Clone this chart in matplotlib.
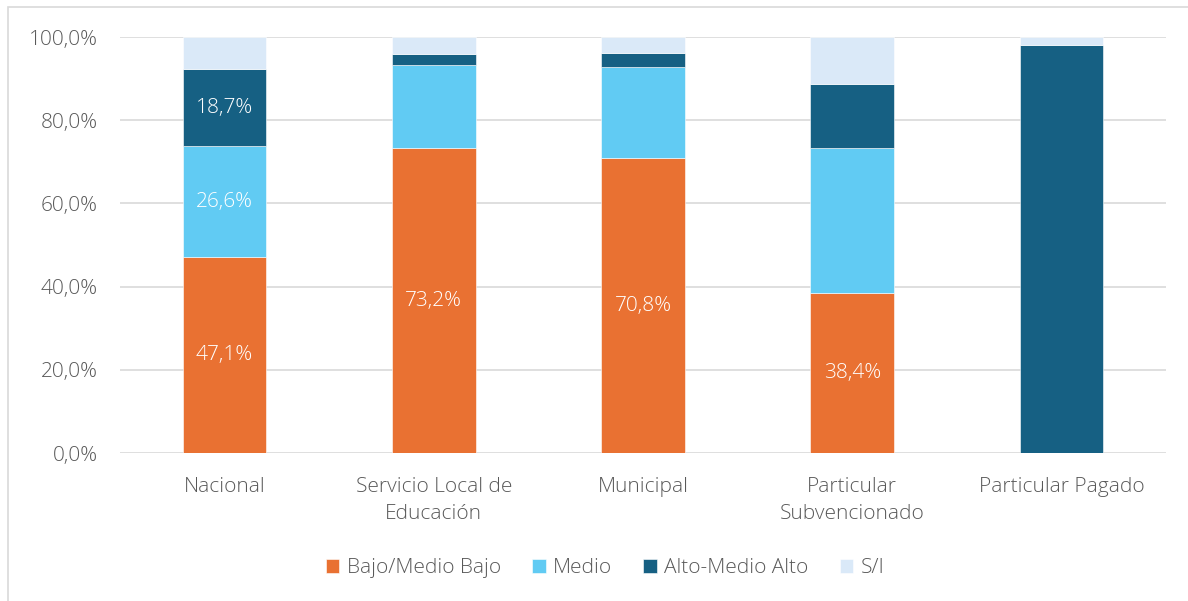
import matplotlib
matplotlib.use("Agg")
import matplotlib.pyplot as plt
from matplotlib.patches import Rectangle
from matplotlib.ticker import FuncFormatter
import numpy as np

categories = ["Nacional", "Servicio Local de\nEducación", "Municipal",
              "Particular\nSubvencionado", "Particular Pagado"]
series_names = ["Bajo/Medio Bajo", "Medio", "Alto-Medio Alto", "S/I"]
bajo = [47.1, 73.2, 70.8, 38.4, 0.0]
medio = [26.6, 20.1, 22.1, 34.9, 0.0]
alto = [18.7, 2.6, 3.3, 15.5, 98.1]
si = [7.6, 4.1, 3.8, 11.2, 1.9]
colors = ["#E97132", "#61CBF3", "#166083", "#DAE9F8"]

# labels shown: (series index, category index)
shown_labels = [(0, 0), (1, 0), (2, 0), (0, 1), (0, 2), (0, 3)]

plt.rcParams['font.family'] = ['Open Sans', 'DejaVu Sans']
FS = 15

fig = plt.figure(figsize=(11.88, 6.01), dpi=100)
ax = fig.add_axes([120/1188, 1-453/601, (1166-120)/1188, (453-37)/601])

x = np.arange(len(categories))
data = [np.array(bajo)/100, np.array(medio)/100, np.array(alto)/100, np.array(si)/100]
bottom = np.zeros(len(categories))
for i, (vals, c, name) in enumerate(zip(data, colors, series_names)):
    ax.bar(x, vals, 0.40, bottom=bottom, color=c, label=name,
           edgecolor="white", linewidth=0.4, zorder=3)
    for (si_, ci) in shown_labels:
        if si_ == i:
            ax.text(x[ci], bottom[ci] + vals[ci]/2,
                    f"{vals[ci]*100:.1f}%".replace(".", ","),
                    ha="center", va="center", color="white", fontsize=FS,
                    fontweight="light", zorder=4)
    bottom = bottom + vals

ax.set_xlim(-0.5, len(categories) - 0.5)
ax.set_ylim(0, 1)
ax.set_yticks(np.arange(0, 1.01, 0.2))
ax.yaxis.set_major_formatter(FuncFormatter(lambda v, p: f"{v*100:.1f}%".replace(".", ",")))
ax.set_xticks(x)
ax.set_xticklabels(categories, linespacing=1.5)
ax.grid(axis="y", color="#D9D9D9", linewidth=1.2, zorder=0)
for s in ax.spines.values():
    s.set_visible(False)
ax.tick_params(axis="both", length=0, labelsize=FS, labelcolor="#595959")
ax.tick_params(axis="x", pad=17)
ax.tick_params(axis="y", pad=16)
for lab in ax.get_xticklabels() + ax.get_yticklabels():
    lab.set_fontweight("light")

leg = fig.legend(loc="center", bbox_to_anchor=(605/1188, 1-568/601), ncol=4,
                 frameon=False, fontsize=FS, handlelength=0.65, handleheight=0.65,
                 handletextpad=0.35, columnspacing=1.5)
for t in leg.get_texts():
    t.set_color("#595959")
    t.set_fontweight("light")

# outer chart frame
fig.add_artist(Rectangle((8/1188, -0.05), 1.2, 1-7/601 + 0.05, transform=fig.transFigure,
                         fill=False, edgecolor="#D9D9D9", linewidth=1.2))

fig.savefig("out.png", dpi=100)
